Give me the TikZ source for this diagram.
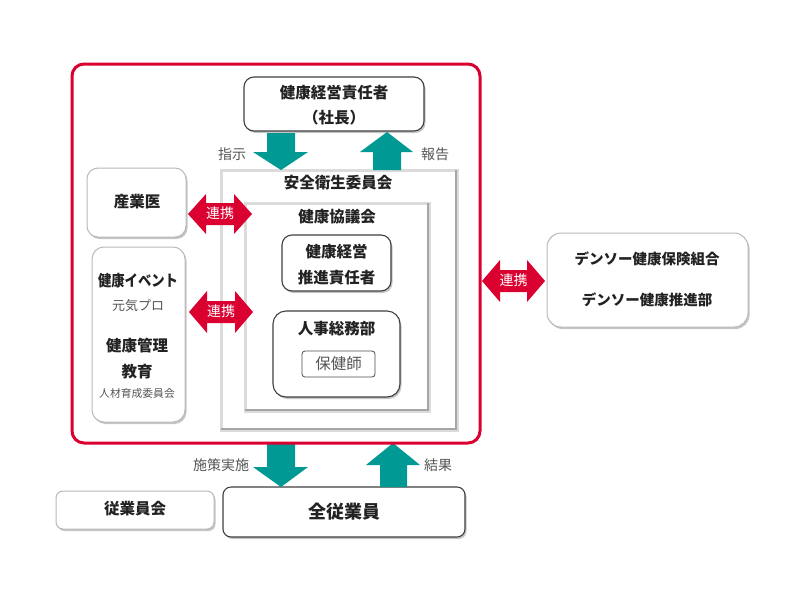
\documentclass[tikz,border=0pt]{standalone}
\usepackage{fontspec}
\setmainfont{Noto Sans CJK JP}
\usetikzlibrary{shadows}
\definecolor{redc}{RGB}{218,0,48}
\definecolor{tealc}{RGB}{0,153,148}
\definecolor{txt}{RGB}{34,34,34}
\definecolor{lbl}{RGB}{85,85,85}
\tikzset{
  boxbase/.style={fill=white, inner sep=0pt, outer sep=0pt,
    drop shadow={shadow xshift=1.5pt, shadow yshift=-2pt, opacity=0.45, fill=gray}},
  lbox/.style={boxbase, draw=gray!55, line width=1pt, rounded corners=11pt},
  dbox/.style={boxbase, draw=black!75, line width=1.1pt, rounded corners=10pt},
  bevbox/.style={draw=gray!28, line width=3pt, fill=white, inner sep=0pt, outer sep=0pt},
  bevshade/.style={draw=gray!70, line width=1.6pt},
  bt/.style={text=txt, font=\bfseries\fontsize{15.5}{18}\selectfont, inner sep=0pt},
  rt/.style={text=lbl, font=\fontsize{14}{16}\selectfont, inner sep=0pt},
  wt/.style={text=white, font=\fontsize{14}{16}\selectfont, inner sep=0pt},
  teal arrow/.style={fill=tealc, draw=none},
  red arrow/.style={fill=redc, draw=none}
}
\begin{document}
\begin{tikzpicture}[x=1pt,y=-1pt]
\useasboundingbox (0,0) rectangle (794,595);
\fill[white] (0,0) rectangle (794,595);

% top box
\node[dbox, minimum width=180, minimum height=54] (ceo) at (334,104) {};
\node[bt] (ceo1) at (334,93) {健康経営責任者};
\node[bt] (ceo2) at (334,118) {（社長）};

% committee (bevel)
\node[bevbox, minimum width=236, minimum height=260] (sc) at (339,300) {};
\draw[bevshade] ([xshift=-1pt]sc.north east) -- ([xshift=-1pt,yshift=1pt]sc.south east) -- ([yshift=1pt]sc.south west);
\node[bt] (sct) at (338,183) {安全衛生委員会};

\node[bevbox, minimum width=184, minimum height=208] (kk) at (337,307) {};
\draw[bevshade] ([xshift=-1pt]kk.north east) -- ([xshift=-1pt,yshift=1pt]kk.south east) -- ([yshift=1pt]kk.south west);
\node[bt] (kkt) at (337,217) {健康協議会};

\node[dbox, minimum width=109, minimum height=56] (sui) at (336.5,263) {};
\node[bt] (sui1) at (336.5,252) {健康経営};
\node[bt] (sui2) at (336.5,278) {推進責任者};

\node[dbox, minimum width=127, minimum height=86, rounded corners=13pt] (jin) at (336.5,354) {};
\node[bt] (jint) at (336.5,329) {人事総務部};
\node[draw=black!70, line width=0.8pt, rounded corners=3pt, fill=white, minimum width=73, minimum height=26, inner sep=0pt] (hok) at (338.5,364) {};
\node[text=lbl, font=\fontsize{15.5}{18}\selectfont, inner sep=0pt] (hokt) at (338.5,364) {保健師};

% left boxes
\node[lbox, minimum width=99, minimum height=69] (sgi) at (136.5,202.5) {};
\node[bt] (sgit) at (137,202) {産業医};

\node[lbox, minimum width=93, minimum height=175, rounded corners=12pt] (ev) at (138.5,334.5) {};
\node[bt] (ev1) at (138,281) {\scalebox{0.86}[1]{健康イベント}};
\node[text=lbl, font=\fontsize{13}{15}\selectfont, inner sep=0pt] (ev2) at (138,306) {元気プロ};
\node[bt] (ev3) at (137,346) {健康管理};
\node[bt] (ev4) at (137,372) {教育};
\node[text=lbl, font=\fontsize{10.8}{12}\selectfont, inner sep=0pt] (ev5) at (137,393) {人材育成委員会};

% right box
\node[lbox, minimum width=201, minimum height=94, rounded corners=14pt] (dn) at (647.5,280) {};
\node[bt, font=\bfseries\fontsize{14.5}{17}\selectfont] (dn1) at (647,259) {デンソー健康保険組合};
\node[bt, font=\bfseries\fontsize{14.5}{17}\selectfont] (dn2) at (647,300) {デンソー健康推進部};

% bottom boxes
\node[lbox, minimum width=158, minimum height=38, rounded corners=7pt] (jkk) at (135,510) {};
\node[bt] (jkkt) at (135,509) {従業員会};
\node[dbox, minimum width=242, minimum height=50, rounded corners=8pt] (all) at (344,512) {};
\node[bt, font=\bfseries\fontsize{18}{20}\selectfont] (allt) at (344,512) {全従業員};

% teal arrows
\fill[teal arrow] (267,133) -- (295,133) -- (295,152) -- (308,152) -- (281,170) -- (253,152) -- (267,152) -- cycle;
\fill[teal arrow] (373,170) -- (401,170) -- (401,152) -- (413,152) -- (387,132) -- (360,152) -- (373,152) -- cycle;
\fill[teal arrow] (267,444) -- (295,444) -- (295,467) -- (308,467) -- (281,487) -- (253,467) -- (267,467) -- cycle;
\fill[teal arrow] (380,487) -- (407,487) -- (407,465) -- (420,465) -- (393,443) -- (366,465) -- (380,465) -- cycle;
\node[rt] (l1) at (232,154) {指示};
\node[rt] (l2) at (435,154) {報告};
\node[rt] (l3) at (221,465) {施策実施};
\node[rt] (l4) at (438,465) {結果};

% red double arrows
\fill[red arrow] (188,214) -- (206,194) -- (206,203) -- (234,203) -- (234,194) -- (252,214) -- (234,234) -- (234,225) -- (206,225) -- (206,234) -- cycle;
\node[wt] (r1) at (220,213) {連携};
\fill[red arrow] (189,312) -- (207,291) -- (207,301) -- (235,301) -- (235,291) -- (253,312) -- (235,333) -- (235,323) -- (207,323) -- (207,333) -- cycle;
\node[wt] (r2) at (221,311) {連携};
\fill[red arrow] (482,281) -- (500,260) -- (500,270) -- (527,270) -- (527,260) -- (545,281) -- (527,302) -- (527,292) -- (500,292) -- (500,302) -- cycle;
\node[wt] (r3) at (513.5,280) {連携};

% red frame
\draw[redc, line width=3pt, rounded corners=12pt] (72,64) rectangle (480,443);
\end{tikzpicture}
\end{document}
